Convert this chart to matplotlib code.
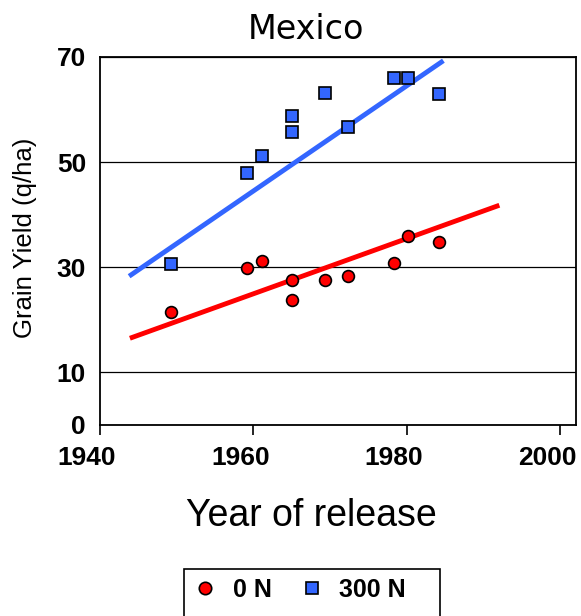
import numpy as np
import matplotlib
matplotlib.use("Agg")
from matplotlib import pyplot as plt
from matplotlib import transforms
from matplotlib.patches import Rectangle

# Release year and grain yield (q/ha) for the two nitrogen levels
years = [1949.3, 1959.2, 1961.2, 1965.1, 1965.1, 1969.3, 1972.3, 1978.3, 1980.2, 1984.2]
yield_0n = [21.5, 29.9, 31.2, 27.6, 23.8, 27.6, 28.4, 30.9, 36.0, 34.8]
yield_300n = [30.6, 47.9, 51.2, 58.8, 55.7, 63.1, 56.6, 66.0, 66.0, 62.9]

# Trend line end points
trend_years_0n = [1943.9, 1992.1]
trend_0n = [16.5, 41.8]
trend_years_300n = [1943.8, 1984.8]
trend_300n = [28.3, 69.3]

x_ticks = [1940, 1960, 1980, 2000]
y_ticks = [0, 10, 30, 50, 70]

red = '#FF0000'
blue = '#3366FF'

plt.rcParams['font.family'] = ['Liberation Sans', 'DejaVu Sans']

fig = plt.figure(figsize=(5.81, 6.16), dpi=100)
ax = fig.add_axes([100/581, 1-425/616, 476/581, 368/616])

ax.plot(trend_years_300n, trend_300n, color=blue, lw=3.5, solid_capstyle='butt', zorder=3)
ax.plot(trend_years_0n, trend_0n, color=red, lw=3.5, solid_capstyle='butt', zorder=3)

ax.plot(years, yield_0n, 'o', color=red, mec='black', mew=1.2, ms=8.5, zorder=4, label='0 N')
ax.plot(years, yield_300n, 's', color=blue, mec='black', mew=1.2, ms=8, zorder=4, label='300 N')

ax.set_xlim(1940, 2002.1)
ax.set_ylim(0, 70)
ax.set_xticks(x_ticks)
ax.set_yticks(y_ticks)
ax.set_xticklabels([str(t) for t in x_ticks], fontsize=19, fontweight='bold')
ax.set_yticklabels([str(t) for t in y_ticks], fontsize=19, fontweight='bold')
ax.tick_params(axis='x', direction='out', length=7, width=1.2, pad=8)
ax.tick_params(axis='y', length=0, pad=10)
ax.yaxis.grid(True, color='black', lw=0.9)
ax.set_axisbelow(True)
for s in ax.spines.values():
    s.set_linewidth(1.3)
    s.set_color('black')

# year labels sit a little left of their ticks
shift = transforms.ScaledTranslation(-13/100, 0, fig.dpi_scale_trans)
for lbl in ax.get_xticklabels():
    lbl.set_transform(lbl.get_transform() + shift)

fig.text(306/581, 1-39/616, 'Mexico', fontsize=24, family='DejaVu Sans',
         ha='center', va='baseline')
fig.text(311/581, 1-526/616, 'Year of release', fontsize=27,
         ha='center', va='baseline')
fig.text(25/581, 1-238/616, 'Grain Yield (q/ha)', fontsize=18.5, rotation=90,
         ha='center', va='center')

# legend box runs off the bottom edge, so draw the frame by hand
fig.legend(loc='upper left', bbox_to_anchor=(184/581, 1-569/616), ncol=2,
           frameon=False, prop={'size': 18, 'weight': 'bold'}, handlelength=1.0,
           handletextpad=0.6, columnspacing=1.1, borderpad=0.35,
           borderaxespad=0, markerscale=1.05)
fig.patches.append(Rectangle((184/581, -0.02), 256/581, 0.02 + 1 - 569/616,
                             transform=fig.transFigure, fill=False,
                             edgecolor='black', lw=1.2))

fig.savefig('out.png', dpi=100)
